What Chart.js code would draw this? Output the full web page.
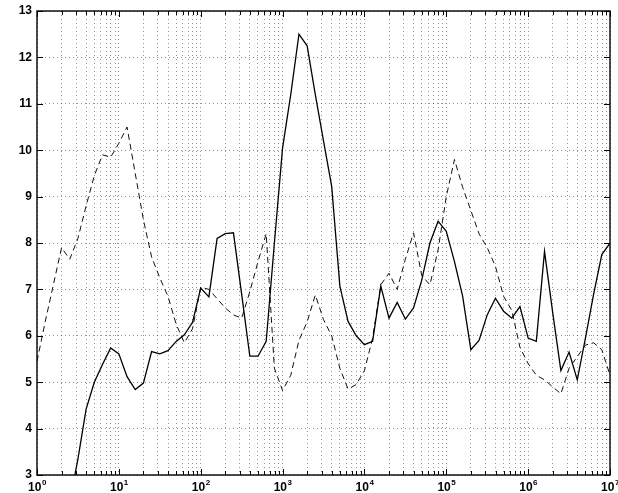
<!DOCTYPE html>
<html>
<head>
<meta charset="utf-8">
<title>Log sweep</title>
<script src="https://cdn.jsdelivr.net/npm/chart.js@4/dist/chart.umd.min.js"></script>
<style>
  html, body { margin: 0; padding: 0; background: #fff; }
  #wrap { width: 618px; height: 493px; position: relative; }
</style>
</head>
<body>
<div id="wrap"><canvas id="plot"></canvas></div>
<script>
// values, one point every 0.1 decade from 10^0 to 10^7
// (first points of the solid curve sit below the axis limit and are clipped)
const solidLine = [
  1.6, 1.8, 2.0, 2.2, 2.4, 3.35, 4.42, 5.0, 5.38, 5.74,
  5.61, 5.12, 4.84, 4.98, 5.66, 5.61, 5.68, 5.88, 6.02, 6.29,
  7.03, 6.84, 8.1, 8.2, 8.22, 6.9, 5.56, 5.56, 5.88, 8.0,
  10.05, 11.2, 12.5, 12.25, 11.2, 10.2, 9.22, 7.07, 6.31, 6.0,
  5.81, 5.88, 7.07, 6.38, 6.72, 6.36, 6.6, 7.2, 8.0, 8.47,
  8.25, 7.6, 6.85, 5.7, 5.9, 6.45, 6.81, 6.53, 6.38, 6.63,
  5.95, 5.88, 7.82, 6.5, 5.25, 5.65, 5.05, 5.95, 6.9, 7.75,
  8.0
];
const dashedLine = [
  5.45, 6.3, 7.1, 7.9, 7.65, 8.1, 8.8, 9.45, 9.9, 9.85,
  10.15, 10.5, 9.5, 8.5, 7.7, 7.25, 6.85, 6.25, 5.85, 6.15,
  7.05, 7.0, 6.8, 6.6, 6.45, 6.38, 6.95, 7.6, 8.2, 5.3,
  4.82, 5.15, 5.9, 6.3, 6.88, 6.35, 6.0, 5.3, 4.85, 4.95,
  5.25, 5.95, 7.1, 7.35, 7.0, 7.65, 8.22, 7.3, 7.1, 7.85,
  9.0, 9.8, 9.2, 8.7, 8.2, 7.9, 7.5, 6.85, 6.55, 5.75,
  5.4, 5.15, 5.05, 4.9, 4.75, 5.3, 5.55, 5.8, 5.85, 5.7,
  5.15
];
const decades = [0, 1, 2, 3, 4, 5, 6, 7];
const yTicks = [3, 4, 5, 6, 7, 8, 9, 10, 11, 12, 13];

const freq = solidLine.map((v, i) => Math.pow(10, i / 10));
const toPts = arr => arr.map((v, i) => ({ x: freq[i], y: v }));

// log grid: 1..9 in every decade
const xTicks = [];
decades.forEach(e => {
  for (let d = 1; d <= 9; d++) {
    if (e === 7 && d > 1) break;
    xTicks.push(d * Math.pow(10, e));
  }
});

const FONT = '"Liberation Sans", Arial, sans-serif';

// box, inward ticks and tick labels like the old plot
const axesPlugin = {
  id: 'axesPlugin',
  afterDraw(chart) {
    const { ctx, chartArea: a, scales: { x, y } } = chart;
    ctx.save();
    ctx.strokeStyle = '#000';
    ctx.lineWidth = 1;
    ctx.beginPath();
    xTicks.forEach(v => {
      const px = Math.round(x.getPixelForValue(v)) + 0.5;
      const major = decades.some(e => Math.abs(v - Math.pow(10, e)) < 1e-9 * v);
      const len = major ? 6 : 4;
      ctx.moveTo(px, a.bottom); ctx.lineTo(px, a.bottom - len);
      ctx.moveTo(px, a.top); ctx.lineTo(px, a.top + len);
    });
    yTicks.forEach(v => {
      const py = Math.round(y.getPixelForValue(v)) + 0.5;
      ctx.moveTo(a.left, py); ctx.lineTo(a.left + 6, py);
      ctx.moveTo(a.right, py); ctx.lineTo(a.right - 6, py);
    });
    ctx.stroke();
    ctx.lineWidth = 1.4;
    ctx.strokeRect(a.left, a.top, a.right - a.left, a.bottom - a.top);

    ctx.fillStyle = '#000';
    ctx.font = '600 12px ' + FONT;
    ctx.textAlign = 'right';
    ctx.textBaseline = 'middle';
    yTicks.forEach(v => {
      ctx.fillText(String(v), a.left - 5, y.getPixelForValue(v));
    });

    ctx.textBaseline = 'alphabetic';
    ctx.textAlign = 'left';
    decades.forEach(e => {
      const px = x.getPixelForValue(Math.pow(10, e));
      ctx.font = '600 12px ' + FONT;
      const wb = ctx.measureText('10').width;
      ctx.font = '600 8px ' + FONT;
      const we = ctx.measureText(String(e)).width;
      const x0 = px - (wb + we) / 2;
      ctx.font = '600 12px ' + FONT;
      ctx.fillText('10', x0, a.bottom + 16);
      ctx.font = '600 8px ' + FONT;
      ctx.fillText(String(e), x0 + wb + 0.5, a.bottom + 10);
    });
    ctx.restore();
  }
};

new Chart(document.getElementById('plot'), {
  type: 'line',
  data: {
    datasets: [
      {
        label: 'solid',
        data: toPts(solidLine),
        borderColor: '#000',
        borderWidth: 1.3,
        pointRadius: 0,
        tension: 0,
        fill: false
      },
      {
        label: 'dashed',
        data: toPts(dashedLine),
        borderColor: '#111',
        borderWidth: 1,
        borderDash: [6, 4],
        pointRadius: 0,
        tension: 0,
        fill: false
      }
    ]
  },
  options: {
    responsive: true,
    maintainAspectRatio: false,
    animation: false,
    events: [],
    layout: { padding: { left: 37, right: 8, top: 11, bottom: 18 } },
    plugins: { legend: { display: false }, tooltip: { enabled: false } },
    scales: {
      x: {
        type: 'logarithmic',
        min: 1,
        max: 1e7,
        afterBuildTicks: s => { s.ticks = xTicks.map(v => ({ value: v })); },
        ticks: { display: false },
        grid: { color: 'rgba(0,0,0,0.42)', lineWidth: 1, drawTicks: false },
        border: { display: false, dash: [1, 3] }
      },
      y: {
        type: 'linear',
        min: 3,
        max: 13,
        afterBuildTicks: s => { s.ticks = yTicks.map(v => ({ value: v })); },
        ticks: { display: false },
        grid: { color: 'rgba(0,0,0,0.42)', lineWidth: 1, drawTicks: false },
        border: { display: false, dash: [1, 3] }
      }
    }
  },
  plugins: [axesPlugin]
});
</script>
</body>
</html>
